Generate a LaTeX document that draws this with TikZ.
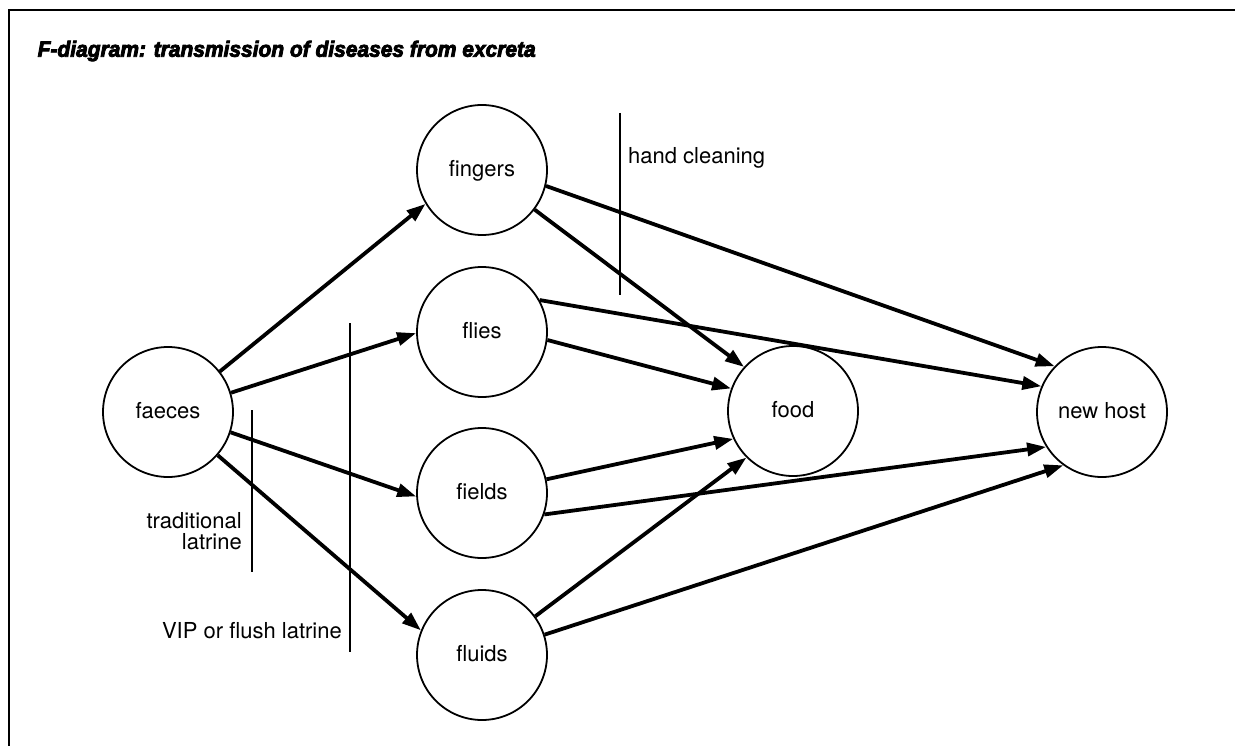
\documentclass[tikz,border=0pt]{standalone}
\usepackage{fontspec}
\setmainfont{TeX Gyre Heros}
\newfontfamily\titlefont[UprightFont={* Bold Italic}, FakeBold=4]{Liberation Sans}
\usetikzlibrary{arrows.meta}
\begin{document}
\begin{tikzpicture}[x=1pt,y=-1pt,
  circ/.style={draw, circle, line width=1.8pt, minimum size=130pt, inner sep=0pt,
    text height=13pt, text depth=0pt, font=\fontsize{22}{20}\selectfont},
  flow/.style={line width=3.8pt, -{Triangle[length=19pt,width=13pt]}},
  bar/.style={line width=1.5pt},
  lbl/.style={font=\fontsize{22}{19.4}\selectfont, inner sep=0pt},
]
\useasboundingbox (0,0) rectangle (1235,746);
% frame
\draw[line width=1.8pt] (9,746) -- (9,10) -- (1235,10);
% title
\node[anchor=west, inner sep=0pt] (title) at (37.5,51)
  {\resizebox{498pt}{16pt}{\titlefont F-diagram: transmission of diseases from excreta}};
% nodes
\node[circ] (faeces) at (168,412) {faeces};
\node[circ] (fingers) at (482,170) {fingers};
\node[circ] (flies) at (482,332) {flies};
\node[circ] (fields) at (482,493) {fields};
\node[circ] (fluids) at (482,655) {fluids};
\node[circ] (food) at (793,411) {food};
\node[circ] (host) at (1102,412) {new host};
% barriers
\draw[bar] (620,113) coordinate (hc1) -- (620,295) coordinate (hc2);
\draw[bar] (252,410) coordinate (tl1) -- (252,572) coordinate (tl2);
\draw[bar] (350,323) coordinate (vp1) -- (350,652) coordinate (vp2);
\node[lbl, anchor=base west] (hclbl) at (628,164) {hand cleaning};
\node[lbl, anchor=base east] (tllbl1) at (242,528) {traditional};
\node[lbl, anchor=base east] (tllbl2) at (242,549) {latrine};
\node[lbl, anchor=base east] (vplbl) at (342,638) {VIP or flush latrine};
% first stage
\draw[flow] (faeces.38.9) -- (fingers.211.6);
\draw[flow] (faeces.17.4) -- (flies.181);
\draw[flow] (faeces.-18.7) -- (fields.183.2);
\draw[flow] (faeces.-41.3) -- (fluids.158.9);
% second stage
\draw[flow] (fingers.-37) -- (food.138);
\draw[flow] (fingers.-14) -- (host.136);
\draw[flow] (flies.-7) -- (food.160);
\draw[flow] (flies.29) -- (host.157.5);
\draw[flow] (fields.12.5) -- (food.205);
\draw[flow] (fields.-19) -- (host.212);
\draw[flow] (fluids.36) -- (food.225);
\draw[flow] (fluids.18.5) -- (host.234);
\end{tikzpicture}
\end{document}
